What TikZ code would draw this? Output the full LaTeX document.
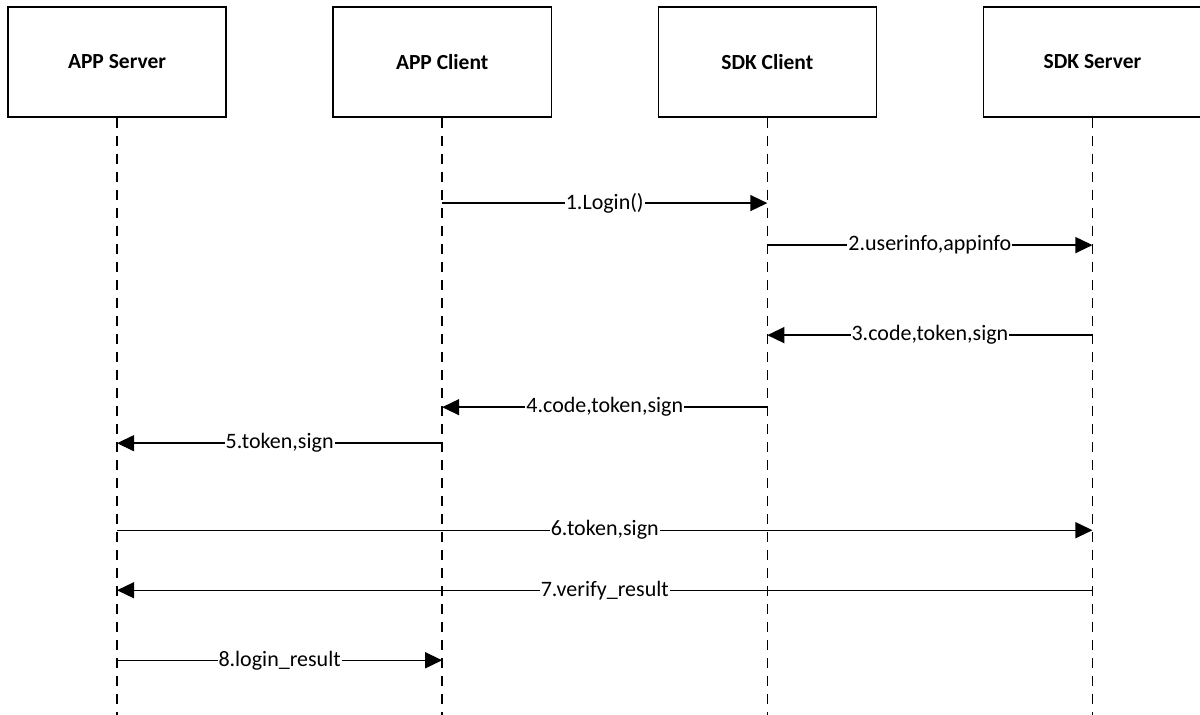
\documentclass[tikz,border=0pt]{standalone}
\usepackage{fontspec}
\setmainfont{Carlito}
\usetikzlibrary{arrows.meta,positioning}
\begin{document}
\begin{tikzpicture}[x=1pt,y=-1pt,node distance=325pt,
				line width=1.4pt,
				actor/.style = {rectangle,draw, line width=1.3pt, minimum width=218pt, minimum height=110pt, inner sep=0pt, font=\fontsize{21.5}{24}\selectfont\bfseries},
				life/.style = {dash pattern=on 10pt off 8pt, line width=1.4pt},
				msg/.style = {-{Triangle[length=17pt,width=16pt]}, line width=1.4pt},
				lbl/.style = {fill=white, inner sep=1pt, font=\fontsize{22}{24}\selectfont}]
				
				\useasboundingbox (0,0) rectangle (1199.5,714);
				
				\node[actor] (as) at (117,62) {APP Server};
				\node[actor] [right of = as](ac) {APP Client};
				\node[actor] [right of = ac](sc) {SDK Client};
				\node[actor] [right of = sc](ss) {SDK Server};
				
				% lifelines
				\foreach \n in {as,ac,sc,ss}
				{
					\coordinate (\n end) at (\n.south |- 0,720);
					\draw[life] (\n.south) -- (\n end);
				}
				
				% message rows
				\coordinate (r1) at (0,203);
				\coordinate (r2) at (0,245);
				\coordinate (r3) at (0,335);
				\coordinate (r4) at (0,407);
				\coordinate (r5) at (0,443);
				\coordinate (r6) at (0,530);
				\coordinate (r7) at (0,590);
				\coordinate (r8) at (0,660);
				
				\draw[msg] (ac |- r1) -- node[lbl] {1.Login()} (sc |- r1);
				\draw[msg] (sc |- r2) -- node[lbl] {2.userinfo,appinfo} (ss |- r2);
				\draw[msg] (ss |- r3) -- node[lbl] {3.code,token,sign} (sc |- r3);
				\draw[msg] (sc |- r4) -- node[lbl] {4.code,token,sign} (ac |- r4);
				\draw[msg] (ac |- r5) -- node[lbl] {5.token,sign} (as |- r5);
				\draw[msg] (as |- r6) -- node[lbl] {6.token,sign} (ss |- r6);
				\draw[msg] (ss |- r7) -- node[lbl] {7.verify\_result} (as |- r7);
				\draw[msg] (as |- r8) -- node[lbl] {8.login\_result} (ac |- r8);
\end{tikzpicture}
\end{document}
